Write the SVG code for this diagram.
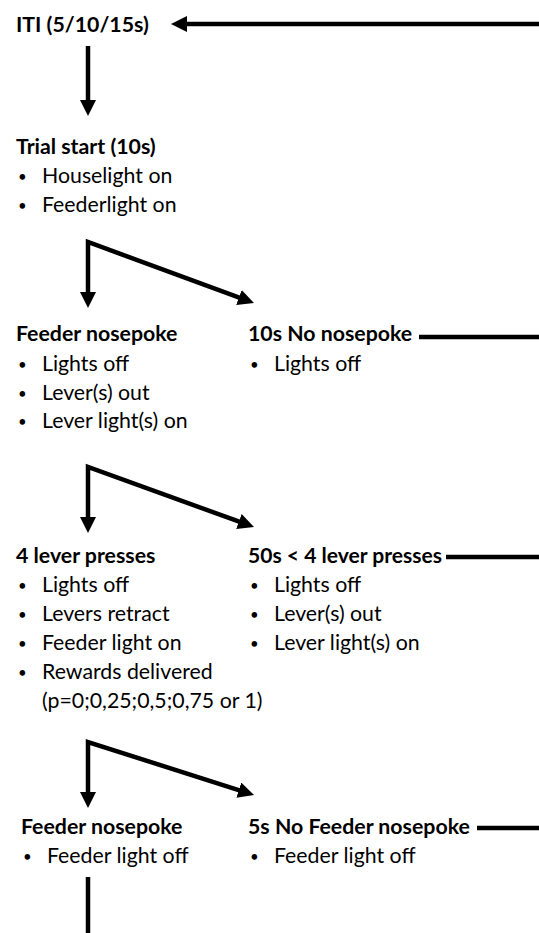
<svg xmlns="http://www.w3.org/2000/svg" width="539" height="933" viewBox="0 0 539 933">
<defs>
<style>
text{font-family:Lato,"Liberation Sans",sans-serif;font-size:21.3px;fill:#000}
.h{font-weight:bold}
.b{font-size:15px}
.c{fill:none;stroke:#000;stroke-width:4.5;stroke-linejoin:miter}
</style>
<marker id="ah" markerUnits="userSpaceOnUse" markerWidth="16" markerHeight="16" refX="4" refY="8" orient="auto-start-reverse" viewBox="0 0 16 16">
<path d="M0,0 L16,8 L0,16 z" fill="#000"/>
</marker>
</defs>
<rect width="539" height="933" fill="#fff"/>
<g id="connectors">
<path class="c" d="M540,24 L183,24" marker-end="url(#ah)"/>
<path class="c" d="M88,46 L88,104" marker-end="url(#ah)"/>
<path class="c" d="M88,296 L88,242 L242.7,298.9" marker-start="url(#ah)" marker-end="url(#ah)"/>
<path class="c" d="M88,521 L88,467 L242.7,522.9" marker-start="url(#ah)" marker-end="url(#ah)"/>
<path class="c" d="M88,796 L88,742 L242.6,791.4" marker-start="url(#ah)" marker-end="url(#ah)"/>
<path class="c" d="M419,337 L540,337"/>
<path class="c" d="M446,557 L540,557"/>
<path class="c" d="M477,828 L540,828"/>
<path class="c" d="M88,877 L88,934"/>
</g>
<g id="iti"><text class="h" x="16" y="32">ITI (5/10/15s)</text></g>
<g id="trial-start">
<text class="h" x="16" y="154">Trial start (10s)</text>
<text class="b" x="18" y="182">•</text><text x="42" y="183">Houselight on</text>
<text class="b" x="18" y="211">•</text><text x="42" y="212">Feederlight on</text>
</g>
<g id="feeder-nosepoke-1">
<text class="h" x="16" y="341">Feeder nosepoke</text>
<text class="b" x="18" y="370">•</text><text x="42" y="371">Lights off</text>
<text class="b" x="18" y="399">•</text><text x="42" y="400">Lever(s) out</text>
<text class="b" x="18" y="427">•</text><text x="42" y="428">Lever light(s) on</text>
</g>
<g id="no-nosepoke">
<text class="h" x="248" y="341">10s No nosepoke</text>
<text class="b" x="250" y="370">•</text><text x="274" y="371">Lights off</text>
</g>
<g id="lever-presses">
<text class="h" x="16" y="563">4 lever presses</text>
<text class="b" x="18" y="591">•</text><text x="42" y="592">Lights off</text>
<text class="b" x="18" y="620">•</text><text x="42" y="621">Levers retract</text>
<text class="b" x="18" y="649">•</text><text x="42" y="650">Feeder light on</text>
<text class="b" x="18" y="678">•</text><text x="42" y="679">Rewards delivered</text>
<text x="42" y="708">(p=0;0,25;0,5;0,75 or 1)</text>
</g>
<g id="timeout-presses">
<text class="h" x="248" y="563" textLength="194" lengthAdjust="spacingAndGlyphs">50s &lt; 4 lever presses</text>
<text class="b" x="250" y="591">•</text><text x="274" y="592">Lights off</text>
<text class="b" x="250" y="620">•</text><text x="274" y="621">Lever(s) out</text>
<text class="b" x="250" y="649">•</text><text x="274" y="650">Lever light(s) on</text>
</g>
<g id="feeder-nosepoke-2">
<text class="h" x="21" y="834">Feeder nosepoke</text>
<text class="b" x="23" y="862">•</text><text x="47" y="863">Feeder light off</text>
</g>
<g id="no-feeder-nosepoke">
<text class="h" x="248" y="834">5s No Feeder nosepoke</text>
<text class="b" x="250" y="862">•</text><text x="274" y="863">Feeder light off</text>
</g>
</svg>
